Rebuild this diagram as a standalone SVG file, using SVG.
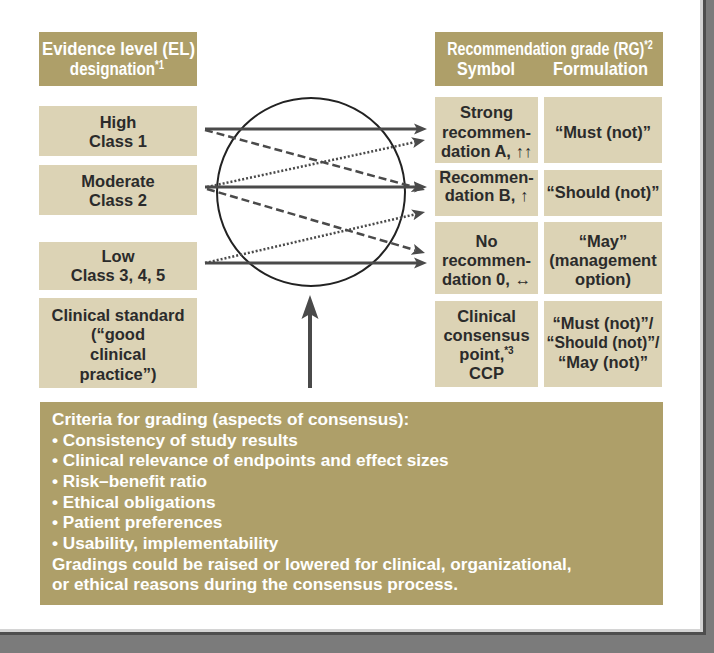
<svg xmlns="http://www.w3.org/2000/svg" width="714" height="653" viewBox="0 0 714 653">
  <style>
    .t { font-family: "Liberation Sans", Arial, sans-serif; font-weight: bold; }
    .hd { fill: #ffffff; font-size: 19px; text-anchor: middle; }
    .sup { font-size: 10px; }
    .hsup { font-size: 12px; }
    .bx { fill: #2b2b2b; font-size: 16.5px; text-anchor: middle; }
    .bt { fill: #ffffff; font-size: 17.2px; }
    .olive { fill: #ae9f69; }
    .beige { fill: #dcd3b5; }
    .ln { fill: none; stroke: #4a4a4a; marker-end: url(#ah); }
    .solid { stroke-width: 3; }
    .dash { stroke-width: 2.5; stroke-dasharray: 8 4; }
    .dot { stroke-width: 2.5; stroke-dasharray: 2 2; }
  </style>
  <defs>
    <marker id="ah" markerUnits="userSpaceOnUse" markerWidth="16" markerHeight="12" refX="3" refY="5.5" orient="auto" viewBox="0 0 16 11">
      <path d="M0,0 L13,5.5 L0,11 L3,5.5 Z" fill="#4a4a4a"/>
    </marker>
  </defs>

  <!-- frame -->
  <rect x="0" y="0" width="714" height="653" fill="#7b7b7b"/>
  <rect x="0" y="0" width="706" height="635" fill="#4e4e4e"/>
  <rect x="0" y="0" width="703" height="632" fill="#d4d4d4"/>
  <rect x="0" y="0" width="700" height="629" fill="#ffffff"/>

  <!-- headers -->
  <g id="hdr-el">
    <rect class="olive" x="39" y="32" width="158" height="54"/>
    <text class="t hd" x="118.5" y="55" textLength="153" lengthAdjust="spacingAndGlyphs">Evidence level (EL)</text>
    <text class="t hd" transform="translate(117,75) scale(0.8,1)" x="0" y="0">designation<tspan class="hsup" dy="-6">*1</tspan></text>
  </g>
  <g id="hdr-rg">
    <rect class="olive" x="435" y="32" width="228" height="54"/>
    <text class="t hd" transform="translate(550,55) scale(0.75,1)" x="0" y="0">Recommendation grade (RG)<tspan class="hsup" dy="-6">*2</tspan></text>
    <text class="t hd" x="486" y="75" textLength="58" lengthAdjust="spacingAndGlyphs">Symbol</text>
    <text class="t hd" x="600.5" y="75" textLength="95" lengthAdjust="spacingAndGlyphs">Formulation</text>
  </g>

  <!-- evidence level boxes -->
  <g id="el-high">
    <rect class="beige" x="39" y="106" width="158" height="50"/>
    <text class="t bx" x="118" y="128">High</text>
    <text class="t bx" x="118" y="147">Class 1</text>
  </g>
  <g id="el-moderate">
    <rect class="beige" x="39" y="165" width="158" height="50"/>
    <text class="t bx" x="118" y="187">Moderate</text>
    <text class="t bx" x="118" y="206">Class 2</text>
  </g>
  <g id="el-low">
    <rect class="beige" x="39" y="242" width="158" height="48"/>
    <text class="t bx" x="118" y="262">Low</text>
    <text class="t bx" x="118" y="281">Class 3, 4, 5</text>
  </g>
  <g id="el-clinical">
    <rect class="beige" x="39" y="298" width="158" height="90"/>
    <text class="t bx" x="118" y="321">Clinical standard</text>
    <text class="t bx" x="118" y="340">(“good</text>
    <text class="t bx" x="118" y="360">clinical</text>
    <text class="t bx" x="118" y="380">practice”)</text>
  </g>

  <!-- recommendation grade boxes -->
  <g id="rg-a">
    <rect class="beige" x="435" y="97" width="103" height="66"/>
    <text class="t bx" x="486.5" y="118">Strong</text>
    <text class="t bx" x="486.5" y="138">recommen-</text>
    <text class="t bx" x="486.5" y="157">dation A, ↑↑</text>
  </g>
  <g id="rg-a-form">
    <rect class="beige" x="544" y="97" width="118" height="66"/>
    <text class="t bx" x="603" y="138">“Must (not)”</text>
  </g>
  <g id="rg-b">
    <rect class="beige" x="435" y="170" width="103" height="46"/>
    <text class="t bx" x="486.5" y="183">Recommen-</text>
    <text class="t bx" x="486.5" y="201">dation B, ↑</text>
  </g>
  <g id="rg-b-form">
    <rect class="beige" x="544" y="170" width="118" height="46"/>
    <text class="t bx" x="603" y="198" textLength="113" lengthAdjust="spacingAndGlyphs">“Should (not)”</text>
  </g>
  <g id="rg-0">
    <rect class="beige" x="435" y="222" width="103" height="72"/>
    <text class="t bx" x="486.5" y="247">No</text>
    <text class="t bx" x="486.5" y="266">recommen-</text>
    <text class="t bx" x="486.5" y="285">dation 0, ↔</text>
  </g>
  <g id="rg-0-form">
    <rect class="beige" x="544" y="222" width="118" height="72"/>
    <text class="t bx" x="603" y="247">“May”</text>
    <text class="t bx" x="603" y="266">(management</text>
    <text class="t bx" x="603" y="285">option)</text>
  </g>
  <g id="rg-ccp">
    <rect class="beige" x="435" y="301" width="103" height="86"/>
    <text class="t bx" x="486.5" y="322">Clinical</text>
    <text class="t bx" x="486.5" y="341">consensus</text>
    <text class="t bx" x="486.5" y="360">point,<tspan class="sup" dy="-6">*3</tspan></text>
    <text class="t bx" x="486.5" y="379">CCP</text>
  </g>
  <g id="rg-ccp-form">
    <rect class="beige" x="544" y="301" width="118" height="86"/>
    <text class="t bx" x="603" y="329">“Must (not)”/</text>
    <text class="t bx" x="603" y="348" textLength="113" lengthAdjust="spacingAndGlyphs">“Should (not)”/</text>
    <text class="t bx" x="603" y="368">“May (not)”</text>
  </g>

  <!-- consensus circle -->
  <g id="consensus">
    <circle cx="311" cy="192" r="94" fill="none" stroke="#222222" stroke-width="2"/>
  </g>

  <!-- connectors -->
  <g id="connectors">
    <line class="ln solid" x1="205" y1="129" x2="417" y2="129"/>
    <line class="ln dash" x1="205" y1="130" x2="415.3" y2="187.4"/>
    <line class="ln dot" x1="207" y1="187" x2="415.2" y2="142.1"/>
    <line class="ln solid" x1="205" y1="187" x2="417" y2="187"/>
    <line class="ln dash" x1="207" y1="189" x2="415.4" y2="250.2"/>
    <line class="ln dot" x1="205" y1="263" x2="415.3" y2="214.3"/>
    <line class="ln solid" x1="205" y1="263" x2="417" y2="263"/>
    <line x1="310" y1="388" x2="310" y2="312" stroke="#4a4a4a" stroke-width="4"/>
    <path d="M310,295 L318.5,319 L310,314 L301.5,319 Z" fill="#4a4a4a"/>
  </g>

  <!-- criteria box -->
  <g id="criteria">
    <rect class="olive" x="40" y="402" width="623" height="203"/>
    <text class="t bt" x="52" y="425">Criteria for grading (aspects of consensus):</text>
    <text class="t bt" x="52" y="446">• Consistency of study results</text>
    <text class="t bt" x="52" y="466">• Clinical relevance of endpoints and effect sizes</text>
    <text class="t bt" x="52" y="487">• Risk–benefit ratio</text>
    <text class="t bt" x="52" y="508">• Ethical obligations</text>
    <text class="t bt" x="52" y="528">• Patient preferences</text>
    <text class="t bt" x="52" y="549">• Usability, implementability</text>
    <text class="t bt" x="52" y="570">Gradings could be raised or lowered for clinical, organizational,</text>
    <text class="t bt" x="52" y="590">or ethical reasons during the consensus process.</text>
  </g>
</svg>
